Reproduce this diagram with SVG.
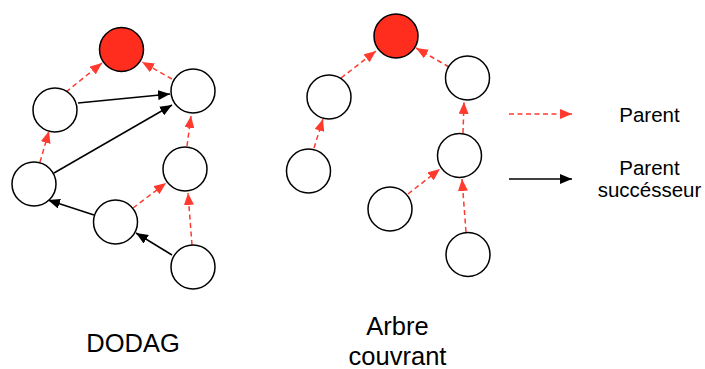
<svg xmlns="http://www.w3.org/2000/svg" width="705" height="369" viewBox="0 0 705 369">
<defs>
<marker id="ar" viewBox="0 0 12 10" refX="12" refY="5" markerWidth="12" markerHeight="10" markerUnits="userSpaceOnUse" orient="auto"><path d="M0,0 L12,5 L0,10 Z" fill="#ff3b30"/></marker>
<marker id="ab" viewBox="0 0 12 10" refX="12" refY="5" markerWidth="12" markerHeight="10" markerUnits="userSpaceOnUse" orient="auto"><path d="M0,0 L12,5 L0,10 Z" fill="#000"/></marker>
</defs>
<style>
.n{fill:#fff;stroke:#000;stroke-width:1.5}
.r{fill:#ff2d1e;stroke:#000;stroke-width:1.5}
.p{stroke:#ff3b30;stroke-width:1.5;stroke-dasharray:5 3.5;fill:none;marker-end:url(#ar)}
.s{stroke:#000;stroke-width:1.5;fill:none;marker-end:url(#ab)}
text{font-family:"Liberation Sans",Arial,sans-serif;fill:#000;text-anchor:middle}
</style>
<rect width="705" height="369" fill="#fff"/>
<g id="edges">
<line class="p" x1="66" y1="92" x2="102" y2="63"/>
<line class="p" x1="172" y1="79" x2="142" y2="62"/>
<line class="s" x1="78" y1="103" x2="170" y2="94"/>
<line class="s" x1="54" y1="173" x2="172" y2="105"/>
<line class="p" x1="40" y1="162" x2="49" y2="131"/>
<line class="p" x1="187" y1="146" x2="191" y2="116"/>
<line class="s" x1="94" y1="215" x2="48" y2="200"/>
<line class="p" x1="133" y1="208" x2="166" y2="183"/>
<line class="p" x1="192" y1="245" x2="188" y2="193"/>
<line class="s" x1="172" y1="255" x2="136" y2="233"/>
<line class="p" x1="341" y1="78" x2="376" y2="51"/>
<line class="p" x1="449" y1="67" x2="416" y2="48"/>
<line class="p" x1="314" y1="148" x2="323" y2="119"/>
<line class="p" x1="463" y1="133" x2="464" y2="102"/>
<line class="p" x1="408" y1="194" x2="440" y2="169"/>
<line class="p" x1="466" y1="232" x2="462" y2="179"/>
<line class="p" x1="509" y1="114" x2="572" y2="114"/>
<line class="s" x1="509" y1="179" x2="572" y2="179"/>
</g>
<g id="d-root"><circle class="r" cx="121.5" cy="49.5" r="22"/></g>
<g id="d-a"><circle class="n" cx="55" cy="110" r="22"/></g>
<g id="d-b"><circle class="n" cx="193" cy="91" r="22"/></g>
<g id="d-c"><circle class="n" cx="34" cy="184" r="22"/></g>
<g id="d-d"><circle class="n" cx="185" cy="169" r="22"/></g>
<g id="d-e"><circle class="n" cx="115.5" cy="222" r="22"/></g>
<g id="d-f"><circle class="n" cx="193" cy="267" r="22"/></g>
<g id="t-root"><circle class="r" cx="396" cy="36" r="22"/></g>
<g id="t-g"><circle class="n" cx="329" cy="97" r="22"/></g>
<g id="t-h"><circle class="n" cx="467.5" cy="78" r="22"/></g>
<g id="t-i"><circle class="n" cx="308.5" cy="171" r="22"/></g>
<g id="t-j"><circle class="n" cx="459.5" cy="155.5" r="22"/></g>
<g id="t-k"><circle class="n" cx="390" cy="209" r="22"/></g>
<g id="t-l"><circle class="n" cx="468" cy="254.5" r="22"/></g>
<g id="legend">
<text x="649.5" y="122" font-size="20.5">Parent</text>
<text x="649.5" y="175" font-size="20.5">Parent</text>
<text x="649.5" y="197" font-size="20.5">succésseur</text>
</g>
<g id="labels">
<text x="133" y="351.5" font-size="25.5">DODAG</text>
<text x="397.5" y="335" font-size="25.5">Arbre</text>
<text x="397.5" y="365" font-size="25.5">couvrant</text>
</g>
</svg>
